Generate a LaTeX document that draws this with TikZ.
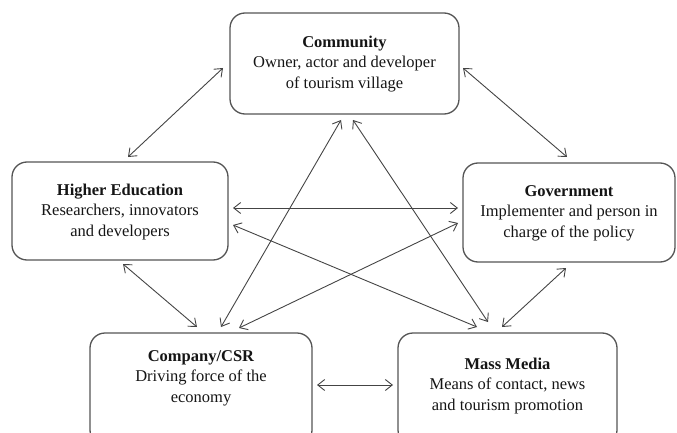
\documentclass[tikz,border=0pt]{standalone}
\usepackage{fontspec}
\setmainfont{Liberation Serif}
\usetikzlibrary{arrows.meta,calc}
\definecolor{boxline}{HTML}{555555}
\definecolor{linkline}{HTML}{444444}
\definecolor{ink}{HTML}{151515}
\begin{document}
\begin{tikzpicture}[x=1pt,y=-1pt,
  actor/.style={draw=boxline,line width=1.3pt,rounded corners=15pt,inner sep=0pt,outer sep=0pt},
  caption/.style={align=center,text=ink,inner sep=0pt,font=\fontsize{16.5}{20.5}\selectfont},
  link/.style={draw=linkline,line width=0.9pt,{Straight Barb[length=7pt,width=11pt]}-{Straight Barb[length=7pt,width=11pt]}}]
\useasboundingbox (0,0) rectangle (677,433);
\clip (0,0) rectangle (677,433);

% stakeholder boxes
\node[actor,minimum width=229pt,minimum height=101pt] (comm) at (344.5,63.5) {};
\node[actor,minimum width=216pt,minimum height=98pt] (he) at (120,211) {};
\node[actor,minimum width=212pt,minimum height=99pt] (gov) at (569,212.5) {};
\node[actor,minimum width=222pt,minimum height=112pt] (comp) at (201,389) {};
\node[actor,minimum width=219pt,minimum height=112pt] (mm) at (507.5,389) {};

% box texts
\node[caption] (commtxt) at (344.5,64) {\textbf{Community}\\Owner, actor and developer\\of tourism village};
\node[caption] (hetxt) at (120,212) {\textbf{Higher Education}\\Researchers, innovators\\and developers};
\node[caption] (govtxt) at (569,213) {\textbf{Government}\\Implementer and person in\\charge of the policy};
\node[caption] (comptxt) at (201,378) {\textbf{Company/CSR}\\Driving force of the\\economy};
\node[caption] (mmtxt) at (507.5,386) {\textbf{Mass Media}\\Means of contact, news\\and tourism promotion};

% two-way relations
\draw[link] ($(comm.west)+(-7,4.5)$) -- ($(he.north)+(8,-5)$);
\draw[link] ($(comm.east)+(4,4.5)$) -- ($(gov.north)+(-2,-6)$);
\draw[link] ($(he.east)+(5,-3)$) -- ($(gov.west)+(-5,-4.5)$);
\draw[link] ($(he.east)+(5,14)$) -- ($(mm.north)+(-30.5,-6)$);
\draw[link] ($(gov.west)+(-5,10.5)$) -- ($(comp.north)+(38,-5)$);
\draw[link] ($(comm.south)+(-3.5,6)$) -- ($(comp.north)+(20,-6)$);
\draw[link] ($(comm.south)+(8.5,6)$) -- ($(mm.north)+(-19.5,-11)$);
\draw[link] ($(he.south)+(3,4)$) -- ($(comp.north)+(-4,-6)$);
\draw[link] ($(gov.south)+(-3,6)$) -- ($(mm.north)+(-5.5,-6)$);
\draw[link] ($(comp.east)+(5,-4)$) -- ($(mm.west)+(-5,-4)$);
\end{tikzpicture}
\end{document}
